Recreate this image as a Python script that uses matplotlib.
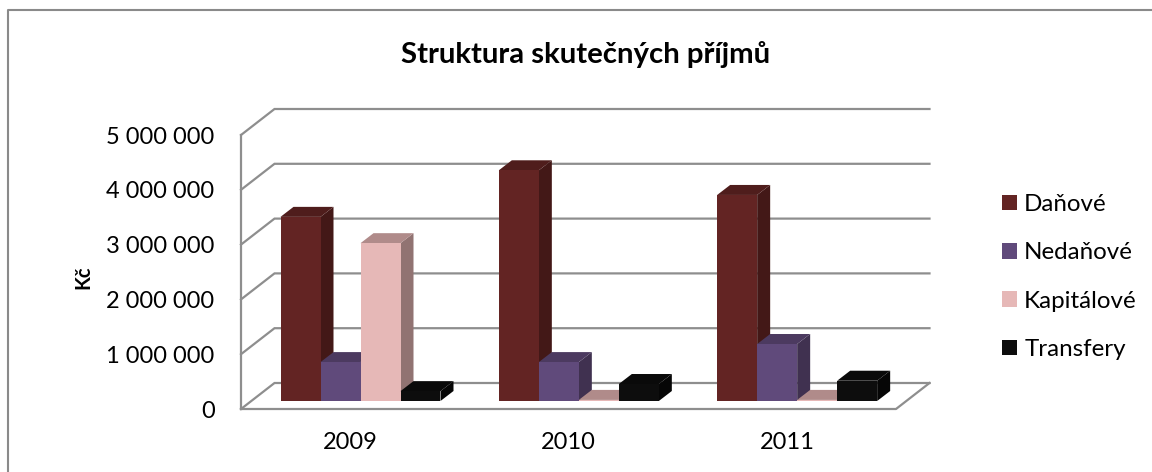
import matplotlib
matplotlib.use('Agg')
import matplotlib.pyplot as plt
from matplotlib.patches import Polygon, Rectangle

plt.rcParams['font.family'] = ['Lato', 'DejaVu Sans']

# Data
years = ['2009', '2010', '2011']
series_names = ['Daňové', 'Nedaňové', 'Kapitálové', 'Transfery']
danove = [3360000, 4210000, 3760000]
nedanove = [710000, 710000, 1040000]
kapitalove = [2880000, 20000, 20000]
transfery = [180000, 310000, 370000]
y_ticks = [0, 1000000, 2000000, 3000000, 4000000, 5000000]
y_tick_labels = ['0', '1 000 000', '2 000 000', '3 000 000', '4 000 000', '5 000 000']

# Colours: front, side, top
front_colors = ['#632423', '#604a7b', '#e6b8b7', '#0d0d0d']
side_colors = ['#431817', '#403150', '#917372', '#060606']
top_colors = ['#4f1d1c', '#4c3a60', '#b08b8a', '#0a0a0a']
grid_color = '#8e8e8e'

W, H = 1152, 472
fig = plt.figure(figsize=(W / 100, H / 100), dpi=100)
fig.patch.set_facecolor('white')

# Outer chart frame, cut off by the image at the right and bottom
frame_x = [8 / W, 8 / W, 1]
frame_y = [0, 1 - 10 / H, 1 - 10 / H]
fig.add_artist(plt.Line2D(frame_x, frame_y, color='#8a8a8a', lw=1.5, transform=fig.transFigure))

# Front plane of the fake 3D box
ax = fig.add_axes([241 / W, 1 - 409 / H, 655 / W, 274 / H])
ax.set_xlim(0, 3)
ax.set_ylim(0, 5000000)
ax.patch.set_alpha(0)
for s in ax.spines.values():
    s.set_visible(False)

px_x = 3 / 655
px_y = 5000000 / 274
wall_dx, wall_dy = 33.5 * px_x, 26 * px_y
bar_dx, bar_dy = 13 * px_x, 10 * px_y
base_x, base_y = 39.5 * px_x, 8 * px_y
bar_w = 40 * px_x

# Walls and gridlines
lw = 1.6
for v in y_ticks:
    ax.plot([0, wall_dx, 3 + wall_dx], [v, v + wall_dy, v + wall_dy], color=grid_color, lw=lw,
            clip_on=False, zorder=1, solid_joinstyle='miter')
ax.plot([0, 0], [0, 5000000], color=grid_color, lw=lw, clip_on=False, zorder=1)
ax.plot([0, 3, 3 + wall_dx], [0, 0, wall_dy], color=grid_color, lw=lw, clip_on=False, zorder=1)

# Bars, series by series
all_series = [danove, nedanove, kapitalove, transfery]
z = 2
for i in range(len(years)):
    for j, values in enumerate(all_series):
        x0 = i + base_x + j * bar_w
        x1 = x0 + bar_w
        y0 = base_y
        y1 = base_y + values[i]
        ax.add_patch(Polygon([[x1, y0], [x1 + bar_dx, y0 + bar_dy], [x1 + bar_dx, y1 + bar_dy], [x1, y1]],
                             facecolor=side_colors[j], edgecolor='none', clip_on=False, zorder=z))
        ax.add_patch(Polygon([[x0, y1], [x1, y1], [x1 + bar_dx, y1 + bar_dy], [x0 + bar_dx, y1 + bar_dy]],
                             facecolor=top_colors[j], edgecolor='none', clip_on=False, zorder=z))
        ax.add_patch(Polygon([[x0, y0], [x1, y0], [x1, y1], [x0, y1]],
                             facecolor=front_colors[j], edgecolor='none', clip_on=False, zorder=z))
        z += 1

# Ticks
ax.set_yticks(y_ticks)
ax.set_yticklabels(y_tick_labels, fontsize=17)
ax.set_xticks([i + 0.5 for i in range(3)])
ax.set_xticklabels(years, fontsize=17)
ax.tick_params(axis='both', length=0)
ax.tick_params(axis='y', pad=19)
ax.tick_params(axis='x', pad=16.5)

fig.text(586 / W, 1 - 54 / H, 'Struktura skutečných příjmů', fontsize=21.2, fontweight='bold',
         ha='center', va='center')
fig.text(83 / W, 1 - 277 / H, 'Kč', fontsize=14.5, fontweight='bold', rotation=90,
         ha='center', va='center')

# Legend
handles = [Rectangle((0, 0), 1, 1, facecolor=c, edgecolor='none') for c in front_colors]
fig.legend(handles, series_names, loc='upper left', bbox_to_anchor=(1002 / W, 1 - 194 / H),
           frameon=False, fontsize=17.4, handlelength=0.62, handleheight=0.62, handletextpad=0.3,
           labelspacing=1.13, borderpad=0, borderaxespad=0)

fig.savefig('out.png', dpi=100)
